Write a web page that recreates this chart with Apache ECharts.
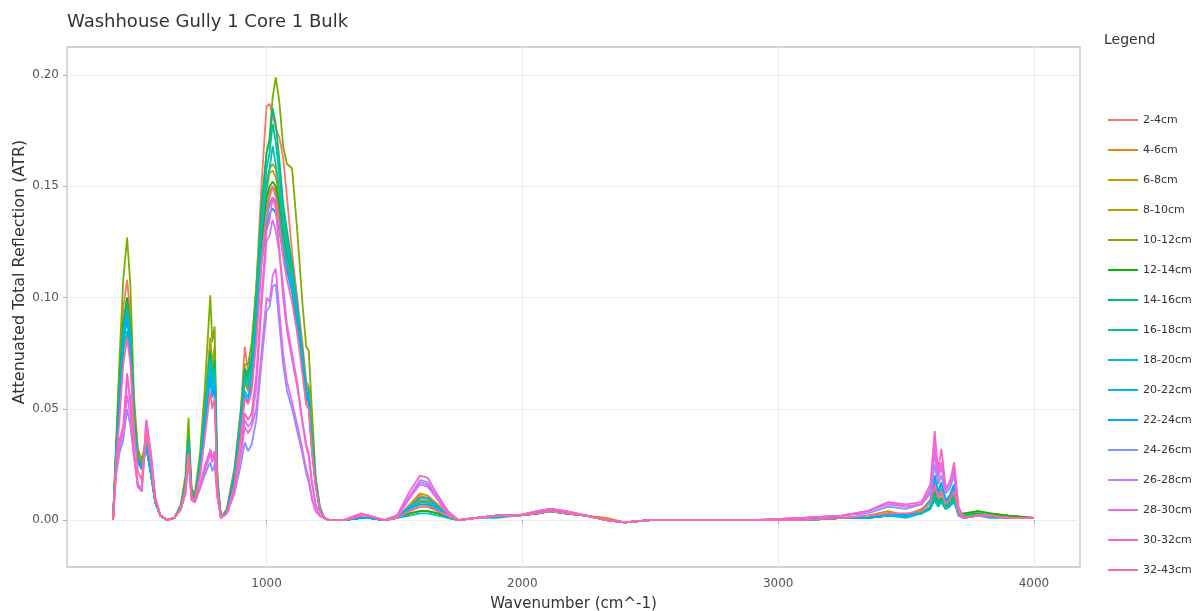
<!DOCTYPE html>
<html>
<head>
<meta charset="utf-8">
<script src="https://cdn.jsdelivr.net/npm/echarts@6/dist/echarts.min.js"></script>
<style>
html,body{margin:0;padding:0;background:#fff;}
#chart{width:1202px;height:611px;}
</style>
</head>
<body>
<div id="chart"></div>
<script>
// Wavenumbers (cm^-1)
var wavenumbers = [
400,412,425,440,455,468,482,497,512,530,
548,565,585,610,640,665,683,695,707,720,
740,758,772,780,788,797,808,822,845,875,
900,915,928,942,960,980,1000,1012,1024,1036,
1050,1065,1080,1100,1120,1140,1155,1165,1178,1192,
1208,1225,1245,1300,1370,1400,1460,1510,1560,1600,
1630,1670,1710,1750,1820,1900,1980,2060,2110,2170,
2250,2330,2400,2500,2700,2900,3100,3250,3350,3430,
3500,3560,3595,3612,3625,3638,3655,3670,3688,3705,3725,
3780,3830,3900,4000];

var seriesNames = ["2-4cm","4-6cm","6-8cm","8-10cm","10-12cm","12-14cm","14-16cm","16-18cm",
"18-20cm","20-22cm","22-24cm","24-26cm","26-28cm","28-30cm","30-32cm","32-43cm"];

var seriesColors = ["#F8766D","#E68613","#CD9600","#ABA300","#7CAE00","#0CB702","#00BE67","#00C19A",
"#00BFC4","#00B8E7","#00A9FF","#8494FF","#C77CFF","#ED68ED","#FF61CC","#FF68A1"];

var s_2_4 = [
0,0.032,0.066,0.095,0.108,0.092,0.05,0.03,0.026,0.036,
0.024,0.009,0.002,0,0.001,0.006,0.016,0.034,0.012,0.01,
0.026,0.047,0.065,0.074,0.063,0.07,0.016,0.001,0.005,0.024,
0.05,0.078,0.066,0.075,0.105,0.15,0.186,0.187,0.182,0.176,
0.172,0.163,0.145,0.12,0.1,0.08,0.062,0.06,0.037,0.018,
0.006,0.001,0,0,0.001,0.001,0,0.001,0.004,0.006,
0.006,0.004,0.002,0,0.001,0.002,0.002,0.003,0.004,0.003,
0.002,0,-0.001,0,0,0,0,0.001,0.001,0.002,
0.002,0.003,0.006,0.012,0.008,0.01,0.006,0.007,0.01,0.003,0.001,
0.002,0.002,0.002,0.001];
var s_4_6 = [
0,0.03,0.058,0.085,0.098,0.083,0.044,0.027,0.023,0.033,
0.021,0.008,0.002,0,0.001,0.006,0.015,0.032,0.011,0.009,
0.024,0.043,0.06,0.068,0.058,0.064,0.014,0.001,0.004,0.019,
0.043,0.062,0.058,0.068,0.088,0.12,0.14,0.148,0.15,0.148,
0.138,0.125,0.118,0.108,0.09,0.072,0.054,0.052,0.032,0.016,
0.005,0.001,0,0,0.001,0.001,0,0.001,0.006,0.011,
0.01,0.006,0.002,0,0.001,0.002,0.002,0.003,0.005,0.003,
0.002,0.001,-0.001,0,0,0,0,0.001,0.001,0.003,
0.002,0.004,0.009,0.02,0.012,0.016,0.009,0.01,0.016,0.004,0.001,
0.002,0.002,0.001,0.001];
var s_6_8 = [
0,0.029,0.057,0.083,0.095,0.08,0.043,0.027,0.023,0.033,
0.021,0.008,0.002,0,0.001,0.006,0.016,0.035,0.012,0.01,
0.026,0.048,0.068,0.079,0.066,0.072,0.016,0.001,0.004,0.02,
0.044,0.064,0.058,0.066,0.09,0.125,0.148,0.156,0.157,0.154,
0.145,0.13,0.118,0.105,0.088,0.07,0.052,0.05,0.031,0.016,
0.005,0.001,0,0,0.001,0.001,0,0.001,0.007,0.012,
0.011,0.007,0.003,0,0.001,0.002,0.002,0.003,0.004,0.003,
0.002,0,-0.001,0,0,0,0,0.001,0.002,0.004,
0.002,0.005,0.008,0.016,0.01,0.013,0.008,0.009,0.013,0.003,0.001,
0.002,0.002,0.001,0.001];
var s_8_10 = [
0,0.031,0.06,0.088,0.1,0.085,0.046,0.028,0.024,0.034,
0.022,0.008,0.002,0,0.001,0.006,0.017,0.038,0.013,0.011,
0.027,0.05,0.07,0.082,0.07,0.078,0.017,0.001,0.004,0.021,
0.046,0.066,0.062,0.07,0.094,0.13,0.152,0.158,0.16,0.158,
0.148,0.134,0.122,0.11,0.094,0.076,0.062,0.06,0.036,0.018,
0.006,0.001,0,0,0.001,0.001,0,0.001,0.005,0.009,
0.009,0.005,0.002,0,0.001,0.002,0.002,0.003,0.004,0.003,
0.002,0,-0.001,0,0,0,0,0.001,0.001,0.003,
0.002,0.004,0.008,0.015,0.009,0.012,0.007,0.009,0.012,0.003,0.002,
0.003,0.002,0.001,0.001];
var s_10_12 = [
0,0.035,0.072,0.108,0.127,0.105,0.055,0.032,0.027,0.037,
0.024,0.009,0.002,0,0.001,0.007,0.02,0.046,0.014,0.012,
0.03,0.058,0.085,0.101,0.08,0.087,0.02,0.001,0.005,0.022,
0.05,0.07,0.07,0.08,0.105,0.14,0.165,0.172,0.19,0.199,
0.188,0.168,0.16,0.158,0.13,0.098,0.078,0.076,0.048,0.02,
0.006,0.001,0,0,0.001,0.001,0,0.001,0.003,0.004,
0.004,0.003,0.001,0,0.001,0.002,0.002,0.003,0.004,0.003,
0.002,0,-0.001,0,0,0,0,0.001,0.001,0.002,
0.002,0.003,0.006,0.012,0.008,0.01,0.006,0.008,0.01,0.003,0.002,
0.004,0.003,0.002,0.001];
var s_12_14 = [
0,0.031,0.06,0.088,0.1,0.086,0.046,0.028,0.024,0.034,
0.022,0.008,0.002,0,0.001,0.006,0.016,0.036,0.012,0.01,
0.025,0.046,0.064,0.072,0.062,0.069,0.015,0.001,0.004,0.02,
0.046,0.068,0.064,0.072,0.094,0.125,0.145,0.15,0.152,0.15,
0.142,0.13,0.12,0.11,0.093,0.074,0.058,0.056,0.034,0.017,
0.005,0.001,0,0,0.001,0.001,0,0.001,0.003,0.004,
0.004,0.003,0.001,0,0.001,0.002,0.002,0.003,0.004,0.003,
0.002,0,-0.001,0,0,0,0,0.001,0.001,0.002,
0.002,0.003,0.005,0.01,0.007,0.009,0.005,0.007,0.009,0.003,0.003,
0.004,0.003,0.002,0.001];
var s_14_16 = [
0,0.03,0.059,0.087,0.098,0.084,0.045,0.028,0.024,0.034,
0.022,0.008,0.002,0,0.001,0.006,0.016,0.037,0.012,0.01,
0.026,0.048,0.066,0.076,0.064,0.072,0.016,0.001,0.004,0.021,
0.047,0.068,0.066,0.074,0.1,0.14,0.165,0.17,0.185,0.178,
0.162,0.142,0.13,0.115,0.096,0.076,0.058,0.056,0.034,0.017,
0.005,0.001,0,0,0.001,0.001,0,0.001,0.005,0.007,
0.007,0.004,0.002,0,0.001,0.002,0.002,0.003,0.004,0.003,
0.002,0,-0.001,0,0,0,0,0.001,0.001,0.002,
0.002,0.003,0.006,0.013,0.008,0.01,0.006,0.008,0.011,0.003,0.002,
0.003,0.002,0.001,0.001];
var s_16_18 = [
0,0.027,0.052,0.076,0.085,0.073,0.04,0.026,0.023,0.033,
0.021,0.008,0.002,0,0.001,0.006,0.015,0.034,0.011,0.009,
0.024,0.044,0.061,0.07,0.06,0.066,0.014,0.001,0.004,0.02,
0.045,0.066,0.063,0.07,0.096,0.135,0.158,0.165,0.178,0.17,
0.155,0.138,0.126,0.112,0.094,0.074,0.057,0.055,0.033,0.017,
0.005,0.001,0,0,0.001,0.001,0,0.001,0.005,0.008,
0.008,0.005,0.002,0,0.001,0.002,0.002,0.003,0.004,0.003,
0.002,0,-0.001,0,0,0,0,0.001,0.001,0.002,
0.002,0.003,0.006,0.011,0.007,0.009,0.005,0.007,0.01,0.003,0.002,
0.002,0.002,0.001,0.001];
var s_18_20 = [
0,0.029,0.057,0.083,0.095,0.081,0.044,0.027,0.023,0.033,
0.021,0.008,0.002,0,0.001,0.006,0.015,0.035,0.011,0.009,
0.025,0.046,0.063,0.072,0.062,0.068,0.015,0.001,0.004,0.019,
0.044,0.064,0.06,0.068,0.092,0.13,0.15,0.158,0.168,0.16,
0.148,0.132,0.122,0.11,0.094,0.075,0.06,0.058,0.035,0.017,
0.005,0.001,0,0,0.001,0.001,0,0.001,0.002,0.003,
0.003,0.002,0.001,0,0.001,0.001,0.002,0.003,0.004,0.003,
0.002,0,-0.001,0,0,0,0,0.001,0.001,0.002,
0.001,0.003,0.005,0.009,0.006,0.008,0.005,0.006,0.008,0.002,0.001,
0.002,0.001,0.001,0.001];
var s_20_22 = [
0,0.028,0.055,0.081,0.092,0.079,0.043,0.027,0.023,0.033,
0.021,0.008,0.002,0,0.001,0.005,0.014,0.032,0.011,0.009,
0.023,0.042,0.058,0.066,0.057,0.062,0.014,0.001,0.004,0.018,
0.041,0.058,0.055,0.063,0.085,0.118,0.136,0.142,0.145,0.143,
0.135,0.124,0.115,0.105,0.089,0.071,0.056,0.054,0.033,0.016,
0.005,0.001,0,0,0.001,0.001,0,0.001,0.005,0.008,
0.008,0.005,0.002,0,0.001,0.002,0.002,0.003,0.005,0.003,
0.002,0,-0.001,0,0,0,0,0.001,0.001,0.002,
0.002,0.004,0.008,0.017,0.011,0.014,0.008,0.01,0.014,0.003,0.001,
0.002,0.002,0.001,0.001];
var s_22_24 = [
0,0.028,0.054,0.08,0.09,0.077,0.042,0.026,0.023,0.033,
0.021,0.008,0.002,0,0.001,0.005,0.014,0.031,0.011,0.009,
0.022,0.04,0.056,0.064,0.055,0.06,0.013,0.001,0.004,0.018,
0.04,0.056,0.053,0.061,0.083,0.115,0.132,0.138,0.14,0.138,
0.13,0.12,0.112,0.102,0.087,0.07,0.055,0.053,0.032,0.016,
0.005,0.001,0,0,0.001,0.001,0,0.001,0.006,0.01,
0.01,0.006,0.002,0,0.001,0.002,0.002,0.003,0.005,0.003,
0.002,0,-0.001,0,0,0,0,0.001,0.001,0.003,
0.002,0.004,0.009,0.02,0.013,0.017,0.009,0.011,0.016,0.004,0.001,
0.002,0.002,0.001,0.001];
var s_24_26 = [
0,0.02,0.03,0.036,0.05,0.042,0.028,0.016,0.014,0.038,
0.026,0.009,0.002,0,0.001,0.005,0.012,0.027,0.009,0.008,
0.014,0.02,0.024,0.026,0.022,0.025,0.01,0.001,0.003,0.012,
0.025,0.035,0.031,0.034,0.045,0.07,0.094,0.096,0.105,0.106,
0.088,0.07,0.058,0.05,0.04,0.03,0.021,0.017,0.009,0.004,
0.002,0.001,0,0,0.002,0.002,0,0.001,0.01,0.017,
0.016,0.009,0.003,0,0.001,0.002,0.002,0.004,0.005,0.004,
0.002,0,-0.001,0,0,0,0.001,0.002,0.003,0.006,
0.005,0.007,0.012,0.025,0.016,0.02,0.012,0.014,0.02,0.005,0.001,
0.002,0.002,0.001,0.001];
var s_26_28 = [
0,0.022,0.032,0.04,0.064,0.052,0.03,0.015,0.013,0.042,
0.028,0.01,0.002,0,0.001,0.005,0.012,0.028,0.009,0.008,
0.015,0.022,0.027,0.032,0.028,0.03,0.011,0.001,0.003,0.013,
0.03,0.045,0.042,0.044,0.06,0.095,0.125,0.128,0.135,0.13,
0.12,0.105,0.088,0.075,0.062,0.045,0.034,0.03,0.017,0.007,
0.002,0.001,0,0,0.002,0.002,0,0.002,0.011,0.018,
0.017,0.01,0.003,0,0.001,0.002,0.002,0.004,0.005,0.004,
0.002,0,-0.001,0,0,0,0.001,0.002,0.004,0.007,
0.006,0.007,0.013,0.03,0.018,0.024,0.013,0.016,0.022,0.005,0.001,
0.002,0.002,0.001,0.001];
var s_28_30 = [
0,0.024,0.035,0.038,0.056,0.047,0.029,0.015,0.013,0.045,
0.03,0.01,0.002,0,0.001,0.005,0.012,0.029,0.009,0.008,
0.015,0.022,0.027,0.03,0.026,0.029,0.011,0.001,0.003,0.014,
0.03,0.042,0.039,0.042,0.05,0.075,0.1,0.098,0.11,0.113,
0.094,0.075,0.062,0.053,0.043,0.032,0.023,0.019,0.01,0.004,
0.002,0.001,0,0,0.002,0.002,0,0.002,0.01,0.016,
0.015,0.009,0.003,0,0.001,0.002,0.002,0.004,0.005,0.004,
0.002,0,-0.001,0,0,0,0.001,0.002,0.004,0.008,
0.006,0.007,0.014,0.034,0.02,0.026,0.014,0.017,0.023,0.005,0.001,
0.002,0.002,0.001,0.001];
var s_30_32 = [
0,0.024,0.036,0.042,0.066,0.054,0.031,0.015,0.013,0.045,
0.03,0.01,0.002,0,0.001,0.005,0.013,0.03,0.009,0.008,
0.016,0.024,0.029,0.031,0.028,0.031,0.011,0.001,0.003,0.014,
0.032,0.048,0.045,0.048,0.065,0.1,0.13,0.135,0.145,0.14,
0.122,0.1,0.085,0.072,0.06,0.044,0.033,0.029,0.016,0.007,
0.002,0.001,0,0,0.003,0.002,0,0.002,0.013,0.02,
0.019,0.011,0.004,0,0.001,0.002,0.002,0.004,0.005,0.004,
0.002,0,-0.001,0,0,0,0.001,0.002,0.004,0.008,
0.007,0.008,0.016,0.04,0.022,0.032,0.015,0.016,0.026,0.006,0.001,
0.002,0.002,0.001,0.001];
var s_32_43 = [
0,0.026,0.045,0.07,0.082,0.07,0.04,0.022,0.018,0.04,
0.026,0.009,0.002,0,0.001,0.005,0.014,0.03,0.01,0.009,
0.02,0.036,0.05,0.058,0.05,0.055,0.013,0.001,0.003,0.016,
0.038,0.055,0.052,0.058,0.08,0.115,0.138,0.145,0.15,0.145,
0.132,0.118,0.108,0.098,0.084,0.066,0.052,0.05,0.03,0.015,
0.005,0.001,0,0,0.002,0.002,0,0.001,0.004,0.006,
0.006,0.004,0.002,0,0.001,0.002,0.002,0.003,0.004,0.003,
0.002,0,-0.001,0,0,0,0,0.001,0.002,0.003,
0.003,0.004,0.008,0.016,0.01,0.013,0.007,0.009,0.013,0.003,0.001,
0.002,0.002,0.001,0.001];

var seriesValues = [s_2_4,s_4_6,s_6_8,s_8_10,s_10_12,s_12_14,s_14_16,s_16_18,
s_18_20,s_20_22,s_22_24,s_24_26,s_26_28,s_28_30,s_30_32,s_32_43];

var xTicks = [1000, 2000, 3000, 4000];
var yTicks = [0, 0.05, 0.10, 0.15, 0.20];

var FONT = 'DejaVu Sans';
var chart = echarts.init(document.getElementById('chart'), null, {renderer: 'canvas'});

var series = seriesNames.map(function (name, k) {
  return {
    name: name,
    type: 'line',
    showSymbol: false,
    symbol: 'none',
    animation: false,
    color: seriesColors[k],
    lineStyle: {width: 1.8, color: seriesColors[k]},
    data: wavenumbers.map(function (x, i) { return [x, seriesValues[k][i]]; })
  };
});

chart.setOption({
  animation: false,
  backgroundColor: '#ffffff',
  textStyle: {fontFamily: FONT},
  title: [
    {text: 'Washhouse Gully 1 Core 1 Bulk', left: 62, top: 8,
     textStyle: {fontFamily: FONT, fontSize: 18, fontWeight: 'normal', color: '#333'}},
    {text: 'Legend', left: 1099, top: 28,
     textStyle: {fontFamily: FONT, fontSize: 14, fontWeight: 'normal', color: '#333'}}
  ],
  graphic: [{
    type: 'text', x: 20, y: 272, rotation: Math.PI / 2,
    style: {text: 'Attenuated Total Reflection (ATR)', fontFamily: FONT, fontSize: 16,
            fill: '#333', align: 'center', verticalAlign: 'middle'}
  }],
  legend: {
    orient: 'vertical', left: 1103, top: 108,
    icon: 'rect', itemWidth: 30, itemHeight: 2, itemGap: 16,
    textStyle: {fontFamily: FONT, fontSize: 11, color: '#333', lineHeight: 14},
    data: seriesNames
  },
  grid: {left: 67, top: 47, width: 1013, height: 520, show: true,
         outerBoundsMode: 'none', containLabel: false,
         borderColor: '#c4c4c4', borderWidth: 1.3, backgroundColor: '#fff'},
  xAxis: {
    type: 'value', min: 220, max: 4180,
    name: 'Wavenumber (cm^-1)', nameLocation: 'middle', nameGap: 30,
    nameTextStyle: {fontFamily: FONT, fontSize: 15, color: '#333'},
    axisLine: {show: false},
    axisTick: {show: true, length: 4, lineStyle: {color: '#b3b3b3'}, customValues: xTicks},
    axisLabel: {fontFamily: FONT, fontSize: 12, color: '#555', margin: 11, customValues: xTicks,
                formatter: function (v) { return String(v); }},
    splitLine: {show: true, lineStyle: {color: '#ececec', width: 1}}
  },
  yAxis: {
    type: 'value', min: -0.0211, max: 0.2126,
    axisLine: {show: false},
    axisTick: {show: true, length: 4, lineStyle: {color: '#b3b3b3'}, customValues: yTicks},
    axisLabel: {fontFamily: FONT, fontSize: 12, color: '#555', margin: 8, customValues: yTicks,
                formatter: function (v) { return v.toFixed(2); }},
    splitLine: {show: true, lineStyle: {color: '#ececec', width: 1}}
  },
  series: series
});
</script>
</body>
</html>
